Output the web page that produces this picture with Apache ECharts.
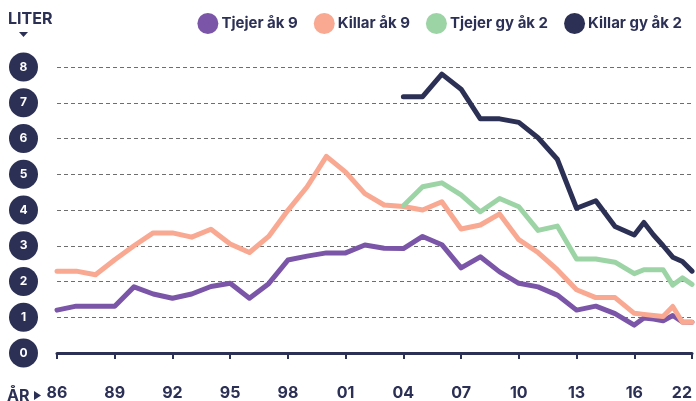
<!DOCTYPE html>
<html>
<head>
<meta charset="utf-8">
<script src="https://cdn.jsdelivr.net/npm/echarts@6/dist/echarts.min.js"></script>
<style>
html,body{margin:0;padding:0;background:#fff;}
#chart{width:696px;height:401px;}
</style>
</head>
<body>
<div id="chart"></div>
<script>
const years = [1986,1987,1988,1989,1990,1991,1992,1993,1994,1995,1996,1997,1998,1999,2000,2001,2002,2003,2004,2005,2006,2007,2008,2009,2010,2011,2012,2013,2014,2015,2016,2017,2018,2019,2020,2021,2022];
const tjejerAk9 = [1.2,1.31,1.31,1.31,1.85,1.65,1.53,1.65,1.86,1.95,1.53,1.94,2.6,2.71,2.8,2.8,3.02,2.93,2.92,3.26,3.03,2.38,2.69,2.27,1.95,1.85,1.62,1.2,1.31,1.1,0.78,0.98,0.95,0.9,1.05,0.87,0.86];
const killarAk9 = [2.29,2.29,2.19,2.61,3.0,3.36,3.36,3.24,3.46,3.05,2.81,3.26,3.99,4.65,5.5,5.06,4.46,4.14,4.1,4.0,4.23,3.47,3.58,3.89,3.17,2.81,2.33,1.77,1.55,1.55,1.11,1.08,1.05,1.02,1.3,0.86,0.86];
const tjejerGy2 = [null,null,null,null,null,null,null,null,null,null,null,null,null,null,null,null,null,null,4.12,4.65,4.76,4.42,3.95,4.32,4.09,3.43,3.55,2.63,2.63,2.54,2.22,2.33,2.33,2.33,1.9,2.1,1.92];
const killarGy2 = [null,null,null,null,null,null,null,null,null,null,null,null,null,null,null,null,null,null,7.17,7.17,7.8,7.38,6.55,6.55,6.45,6.02,5.42,4.05,4.26,3.54,3.3,3.65,3.3,3.0,2.68,2.56,2.29];
const seriesNames = ['Tjejer åk 9','Killar åk 9','Tjejer gy åk 2','Killar gy åk 2'];
const colors = ['#7B56A8','#F9A891','#9DD4A6','#2C3055'];
const yTicks = [0,1,2,3,4,5,6,7,8];

// the axis after 2016 is drawn at half a year per survey year
function axisPos(y){ return y <= 2016 ? y : 2016 + (y - 2016) / 2; }
function axisLabelFor(v){
  if (v === axisPos(2022)) return '22';
  return String(v % 100).padStart(2,'0');
}
function toPairs(arr){
  const out = [];
  arr.forEach((v,i)=>{ if (v !== null) out.push([axisPos(years[i]), v]); });
  return out;
}
const navy = '#2C3055';
const font = 'Inter, "Noto Sans", sans-serif';
const chart = echarts.init(document.getElementById('chart'));
const allData = [tjejerAk9, killarAk9, tjejerGy2, killarGy2];
chart.setOption({
  animation:false,
  textStyle:{fontFamily:font},
  grid:{left:57,right:4,top:67,bottom:47,containLabel:false},
  legend:{
    data:seriesNames, icon:'circle', itemWidth:21, itemHeight:21, itemGap:16,
    right:9, top:8,
    textStyle:{fontFamily:font,fontSize:15,fontWeight:'bold',color:navy, padding:[0,0,0,-2]}
  },
  xAxis:{
    type:'value', min:1986, max:axisPos(2022), interval:3,
    splitLine:{show:false},
    axisLine:{lineStyle:{color:navy,width:3}},
    axisTick:{show:true,length:6,lineStyle:{color:navy,width:2}},
    axisLabel:{formatter:axisLabelFor, margin:32, fontSize:16, fontWeight:'bold', color:navy, fontFamily:font, alignMaxLabel:'right', showMaxLabel:true, showMinLabel:true}
  },
  yAxis:{
    type:'value', min:yTicks[0], max:yTicks[yTicks.length-1], interval:1,
    axisLine:{show:false}, axisTick:{show:false},
    splitLine:{lineStyle:{type:[4,3],color:'#6e6e6e',width:1.2}},
    axisLabel:{
      margin:19,
      formatter:v=>'{c|'+v+'}',
      rich:{c:{width:29,height:29,lineHeight:29,borderRadius:15,backgroundColor:navy,color:'#fff',align:'center',fontSize:12,fontWeight:'bold',fontFamily:font}}
    }
  },
  graphic:[
    {type:'text',left:8,top:11,style:{text:'LITER',fontFamily:font,fontSize:16,fontWeight:'bold',fill:navy}},
    {type:'polygon',shape:{points:[[19,32],[28,32],[23.5,37]]},style:{fill:navy}},
    {type:'text',left:7,top:388,style:{text:'ÅR',fontFamily:font,fontSize:16,fontWeight:'bold',fill:navy}},
    {type:'polygon',shape:{points:[[34,391],[34,400],[41,395.5]]},style:{fill:navy}}
  ],
  series: seriesNames.map((n,i)=>({
    name:n, type:'line', data:toPairs(allData[i]), showSymbol:false, symbol:'circle',
    color:colors[i],
    lineStyle:{width:5,color:colors[i],cap:'round',join:'round'},
    itemStyle:{color:colors[i]}
  }))
});
</script>
</body>
</html>
